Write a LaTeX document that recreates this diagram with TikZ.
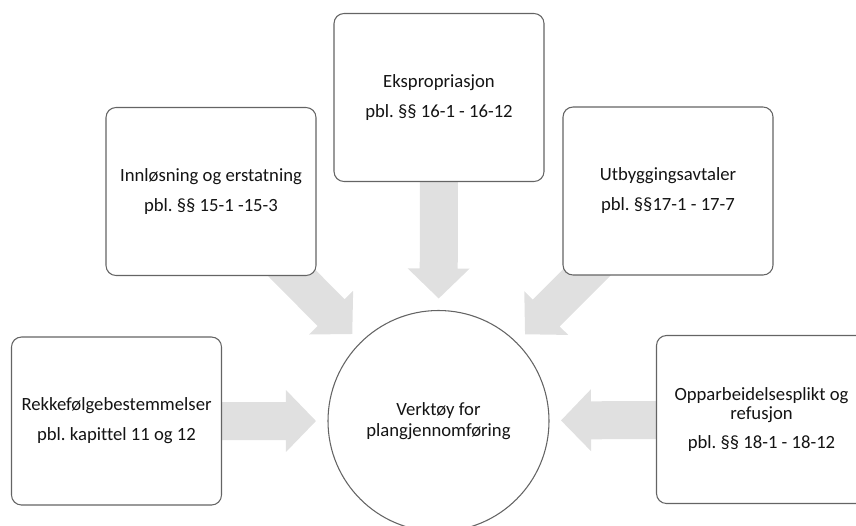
\documentclass[tikz,border=0pt]{standalone}
\usepackage{fontspec}
\setmainfont{Carlito}[Ligatures=NoCommon]
\usetikzlibrary{calc,backgrounds}
\frenchspacing
\definecolor{arrowgray}{RGB}{224,224,224}
\definecolor{linegray}{RGB}{100,100,100}
\definecolor{textcol}{RGB}{20,20,20}
\newcommand\sw{14.25pt}
\newcommand\hw{23.25pt}
\newcommand\hl{22.5pt}
\newcommand\blockarr[2]{%
  \coordinate (hb) at ($(#2)!\hl!(#1)$);
  \fill[arrowgray] ($(#1)!\sw!90:(#2)$) -- ($(hb)!\sw!90:(#2)$) -- ($(hb)!\hw!90:(#2)$) -- (#2)
    -- ($(hb)!\hw!-90:(#2)$) -- ($(hb)!\sw!-90:(#2)$) -- ($(#1)!\sw!-90:(#2)$) -- cycle;}
\begin{document}
\begin{tikzpicture}[x=0.75pt,y=-0.75pt,
  box/.style={draw=linegray, line width=0.8pt, fill=white, rounded corners=7.5pt,
    minimum width=157.5pt, minimum height=126pt, inner sep=0pt, align=center,
    text=textcol, font=\fontsize{14}{14}\selectfont\frenchspacing},
  hub/.style={circle, draw=linegray, line width=0.8pt, fill=white, minimum size=165.75pt,
    inner sep=0pt, align=center, text=textcol, font=\fontsize{14}{14}\selectfont}]
\useasboundingbox (0,0) rectangle (856,525);
\clip (0,0) rectangle (856,525);
\node[box] (E) at (439,97.5) {Ekspropriasjon\\[8.5pt]pbl. §§ 16-1 - 16-12};
\node[box] (I) at (211,191.5) {Innløsning og erstatning\\[8.5pt]pbl. §§ 15-1 -15-3};
\node[box] (U) at (668,191) {Utbyggingsavtaler\\[8.5pt]pbl. §§17-1 - 17-7};
\node[box] (R) at (116.5,421) {Rekkefølgebestemmelser\\[8.5pt]pbl. kapittel 11 og 12};
\node[box] (O) at (761.5,419.5) {Opparbeidelsesplikt og\\refusjon\\[7.75pt]pbl. §§ 18-1 - 18-12};
\node[hub] (C) at (438.5,421) {Verktøy for\\[2pt]plangjennomføring};
\coordinate (tE) at ($(C.center)!91.9pt!(E.center)$);
\coordinate (tI) at ($(C.center)!91.9pt!(I.center)$);
\coordinate (tU) at ($(C.center)!91.9pt!(U.center)$);
\coordinate (tR) at ($(C.center)!91.9pt!(R.center)$);
\coordinate (tO) at ($(C.center)!91.9pt!(O.center)$);
\begin{scope}[on background layer]
\blockarr{E.center}{tE}
\blockarr{I.center}{tI}
\blockarr{U.center}{tU}
\blockarr{R.center}{tR}
\blockarr{O.center}{tO}
\end{scope}
\end{tikzpicture}
\end{document}
